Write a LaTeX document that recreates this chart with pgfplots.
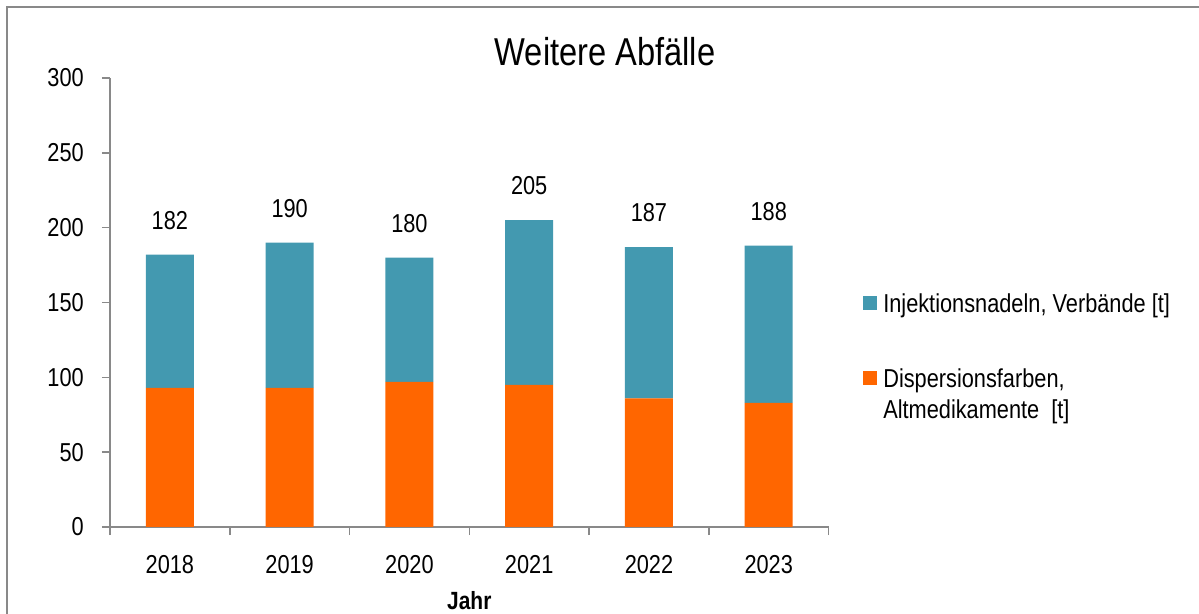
\documentclass[border=0pt]{standalone}
\usepackage{fontspec}
\setmainfont{Liberation Sans}[FakeStretch=0.84]
\usepackage{pgfplots}
\pgfplotsset{compat=1.18}
\usepackage{pgfplotstable}
\definecolor{cblue}{RGB}{67,153,176}
\definecolor{corange}{RGB}{255,102,0}
\definecolor{cgray}{RGB}{137,137,137}

\pgfplotstableread{
x orange blue total
0 93 89 182
1 93 97 190
2 97 83 180
3 95 110 205
4 86 101 187
5 83 105 188
}\datatable

\begin{document}
\begin{tikzpicture}
\useasboundingbox (0bp,0bp) rectangle (1199bp,614bp);
\draw[cgray, line width=2bp] (7bp,-2bp) -- (7bp,607bp) -- (1201bp,607bp);
\node[font=\fontsize{39}{44}\selectfont] at (605bp,562bp) {Weitere Abfälle};
\begin{axis}[
  at={(110bp,87bp)}, anchor=south west,
  scale only axis, width=718.6bp, height=449bp,
  ybar stacked, bar width=48bp,
  xmin=-0.5, xmax=5.5, ymin=0, ymax=300,
  ytick={0,50,...,300},
  xtick={-0.5,0.5,...,5.5},
  x tick label as interval,
  xticklabels={2018,2019,2020,2021,2022,2023},
  axis x line*=bottom, axis y line*=left,
  axis line style={cgray, line width=1.5bp, -},
  tick style={cgray, line width=1.5bp},
  tick align=outside, major tick length=8bp,
  /pgf/number format/assume math mode=true,
  tick label style={font=\fontsize{26}{31}\selectfont, text=black},
  yticklabel style={anchor=east, inner sep=0pt, xshift=-18bp},
  xticklabel style={anchor=north, inner sep=0pt, yshift=-20bp},
  xlabel={Jahr},
  xlabel style={font=\bfseries\fontsize{25}{30}\selectfont, at={(axis description cs:0.5,0)}, anchor=center, yshift=-73.5bp},
  reverse legend,
  legend cell align=left,
  legend style={draw=none, fill=none, at={(axis description cs:1.048,0.525)}, anchor=north west,
    inner sep=0pt, row sep=51bp, font=\fontsize{26}{31}\selectfont,
    nodes={align=left}, cells={anchor=base west},
    /tikz/every odd column/.style={column sep=4bp}},
]
\addplot[fill=corange, draw=none,
  legend image code/.code={\fill[corange] (0bp,33.3bp) rectangle (14bp,47.3bp);}]
  table[x=x, y=orange] {\datatable};
\addlegendentry{Dispersionsfarben,\\Altmedikamente\ \ [t]}
\addplot[fill=cblue, draw=none,
  legend image code/.code={\fill[cblue] (0bp,2.3bp) rectangle (14bp,16.3bp);},
  nodes near coords, point meta=explicit,
  visualization depends on={\thisrow{blue} \as \bh},
  every node near coord/.append style={anchor=south, inner sep=0pt,
    yshift={\bh*0.74833bp+25bp}, font=\fontsize{26}{31}\selectfont, text=black}
  ] table[x=x, y=blue, meta=total] {\datatable};
\addlegendentry{Injektionsnadeln, Verbände [t]}
\end{axis}
\end{tikzpicture}
\end{document}
